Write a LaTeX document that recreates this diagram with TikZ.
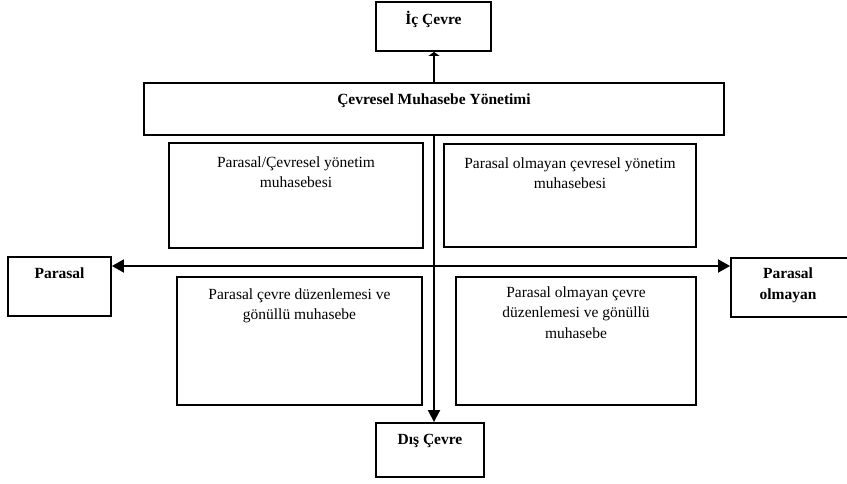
\documentclass[tikz,border=0pt]{standalone}
\usepackage{fontspec}
\setmainfont{Liberation Serif}
\usepackage{tikz}
\usetikzlibrary{arrows.meta}

\begin{document}
\begin{tikzpicture}[
  x=1pt,y=-1pt,
  box/.style={draw,line width=1.9pt,inner sep=0pt},
  lbl/.style={anchor=base,yshift=-#1,align=center,inner sep=0pt,
              font=\fontsize{15.5}{20.5}\selectfont},
  hlbl/.style={lbl=#1,font=\fontsize{15.5}{20.5}\selectfont\bfseries},
  flow/.style={-{Triangle[length=12pt,width=12pt]},line width=1.9pt}
]
\useasboundingbox (0,0) rectangle (847,483);
% environment boxes
\node[box,minimum width=115pt,minimum height=49pt,
      label={[hlbl=23pt]north:İç Çevre}] (ic) at (433.5,26.5) {};
\node[box,minimum width=580pt,minimum height=52pt,
      label={[hlbl=22pt]north:Çevresel Muhasebe Yönetimi}] (cmy) at (434,109) {};
\node[box,minimum width=108pt,minimum height=54pt,
      label={[hlbl=22pt]north:Dış Çevre}] (dis) at (430,450) {};
\node[box,minimum width=103pt,minimum height=59pt,
      label={[hlbl=22pt]north:Parasal}] (parasal) at (59.5,286.5) {};
\node[box,minimum width=118pt,minimum height=59pt,
      label={[hlbl=42pt,xshift=-2pt]north:Parasal\\olmayan}] (olmayan) at (790,287.5) {};
% quadrants
\node[box,minimum width=254pt,minimum height=105pt,
      label={[lbl=45.5pt]north:Parasal/Çevresel yönetim\\muhasebesi}] (pcy) at (296,195.5) {};
\node[box,minimum width=252pt,minimum height=103pt,
      label={[lbl=45.5pt]north:Parasal olmayan çevresel yönetim\\muhasebesi}] (pocy) at (570,195.5) {};
\node[box,minimum width=245pt,minimum height=128pt,
      label={[lbl=43.5pt]north:Parasal çevre düzenlemesi ve\\gönüllü muhasebe}] (pcd) at (299.5,341) {};
\node[box,minimum width=240pt,minimum height=128pt,
      label={[lbl=62pt]north:Parasal olmayan çevre\\düzenlemesi ve gönüllü\\muhasebe}] (pocd) at (576,341) {};
% axes
\coordinate (cross) at (433,266);
\draw[flow] (cmy.south) -- (cmy.south |- dis.north);
\draw[flow,-{Triangle[length=4pt,width=11pt]}] (cmy.north) -- (cmy.north |- ic.south);
\draw[flow,{Triangle[length=12pt,width=13pt]}-{Triangle[length=12pt,width=13pt]}]
  (parasal.east |- cross) -- (olmayan.west |- cross);
\end{tikzpicture}
\end{document}
